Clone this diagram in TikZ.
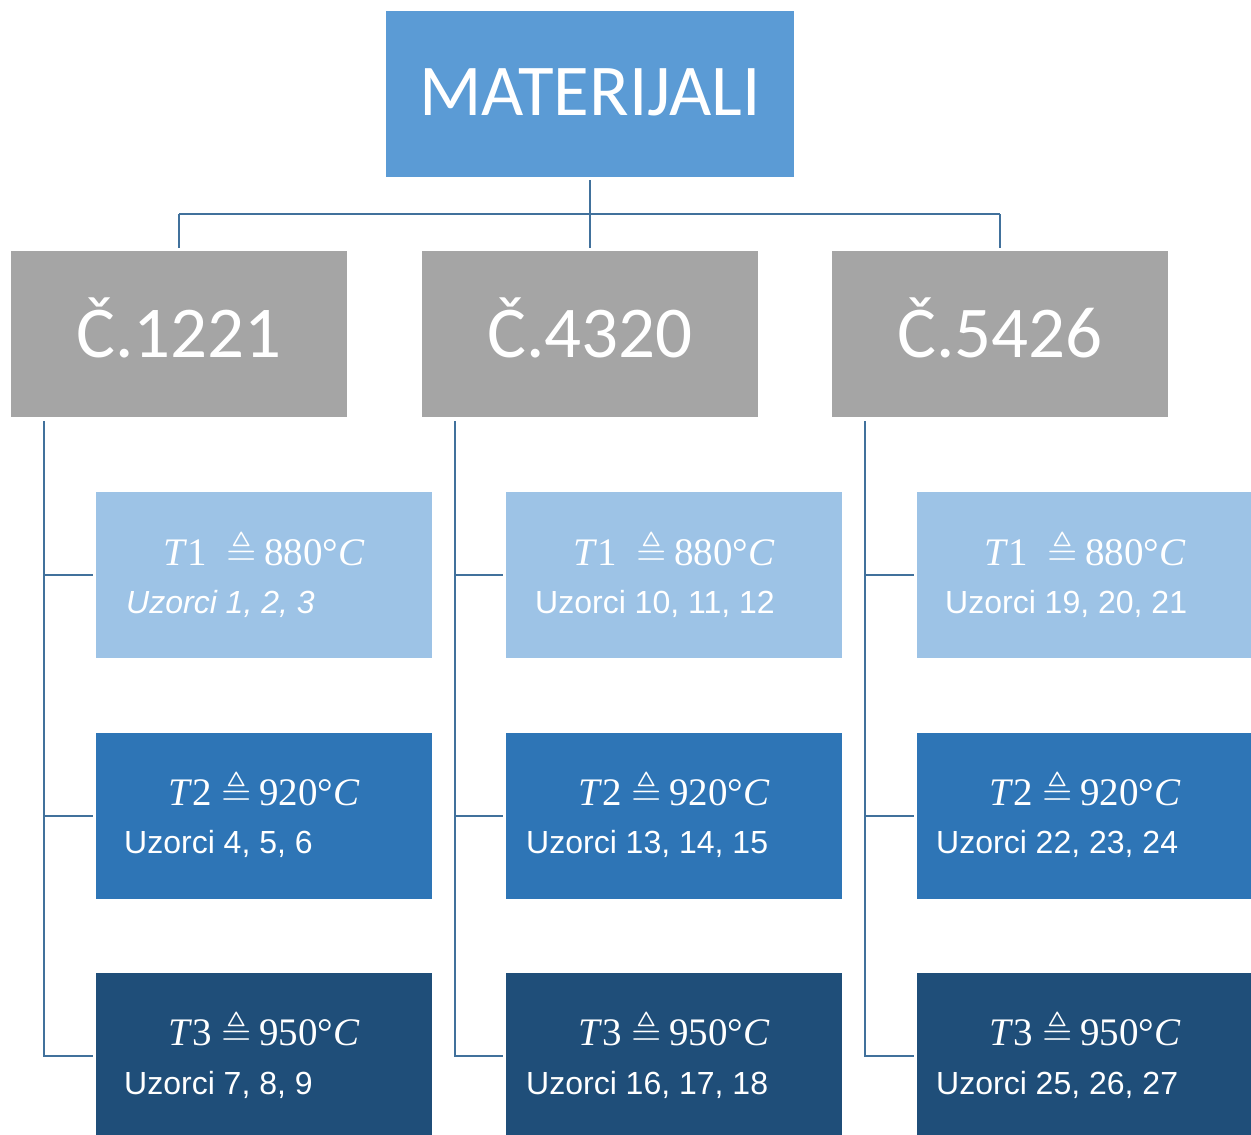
\documentclass[tikz,border=0pt]{standalone}
\usepackage{amssymb}
\usepackage{fontspec}
\setmainfont{Liberation Sans}
\newfontfamily\calib{Carlito}
\newfontfamily\serf{Liberation Serif}
\usetikzlibrary{calc}
\definecolor{topc}{HTML}{5B9BD5}
\definecolor{grayc}{HTML}{A5A5A5}
\definecolor{lightc}{HTML}{9DC3E6}
\definecolor{midc}{HTML}{2E75B6}
\definecolor{darkc}{HTML}{1F4E79}
\definecolor{linec}{HTML}{41719C}
\tikzset{
  box/.style={rectangle, inner sep=0pt, minimum width=336pt, minimum height=166pt},
  topbox/.style={box, fill=topc, minimum width=408pt},
  graybox/.style={box, fill=grayc},
  l1/.style={box, fill=lightc},
  l2/.style={box, fill=midc},
  l3/.style={box, fill=darkc},
  conn/.style={draw=linec, line width=2.6pt},
  big/.style={text=white, inner sep=0pt, font=\calib\fontsize{73}{80}\selectfont},
  tline/.style={text=white, inner sep=0pt, anchor=base, font=\serf\fontsize{39}{44}\selectfont},
  uline/.style={text=white, inner sep=0pt, anchor=base west, font=\fontsize{32}{36}\selectfont},
}
\newcommand{\tlab}[3]{\textit{T}#1#2$\triangleq$\hspace{0.2em}#3°\textit{C}}
\begin{document}
\begin{tikzpicture}[x=1pt,y=-1pt]
\useasboundingbox (0,0) rectangle (1251,1135);
\begin{scope}
\clip (0,0) rectangle (1251,1135);
% top
\node[topbox] (top) at (590,94) {};
\node[big, anchor=base] (topt) at (590,115) {MATERIJALI};
% gray
\node[graybox] (g1) at (179,334) {};
\node[graybox] (g2) at (590,334) {};
\node[graybox] (g3) at (1000,334) {};
\node[big, anchor=base] (g1t) at (179,357) {Č.1221};
\node[big, anchor=base] (g2t) at (590,357) {Č.4320};
\node[big, anchor=base] (g3t) at (1000,357) {Č.5426};
\coordinate (bus) at (0,214);
\draw[conn] (top.south) ++(0,3) -- (top.south |- bus);
\draw[conn, shorten >=3pt] (g1.north |- bus) -- (g1.north);
\draw[conn, shorten >=3pt] (g2.north |- bus) -- (g2.north);
\draw[conn, shorten >=3pt] (g3.north |- bus) -- (g3.north);
\draw[conn] (g1.north |- bus) -- (g3.north |- bus);
% children
\foreach \c/\x/\g in {1/264/g1, 2/674/g2, 3/1085/g3} {
  \node[l1] (c\c1) at (\x,575) {};
  \node[l2] (c\c2) at (\x,816) {};
  \node[l3] (c\c3) at (\x,1056) {};
  \coordinate (sp\c) at ($(\g.south west)+(33,4)$);
  \draw[conn] (sp\c) |- ($(c\c3.west)+(-3,0)$);
  \draw[conn] (sp\c |- c\c1.west) -- ($(c\c1.west)+(-3,0)$);
  \draw[conn] (sp\c |- c\c2.west) -- ($(c\c2.west)+(-3,0)$);
}
% texts
\node[tline] (t11) at (264,565) {\tlab{1}{\ \ }{880}};
\node[tline] (t21) at (674,565) {\tlab{1}{\ \ }{880}};
\node[tline] (t31) at (1085,565) {\tlab{1}{\ \ }{880}};
\node[tline] (t12) at (264,805) {\tlab{2}{\ }{920}};
\node[tline] (t22) at (674,805) {\tlab{2}{\ }{920}};
\node[tline] (t32) at (1085,805) {\tlab{2}{\ }{920}};
\node[tline] (t13) at (264,1045) {\tlab{3}{\ }{950}};
\node[tline] (t23) at (674,1045) {\tlab{3}{\ }{950}};
\node[tline] (t33) at (1085,1045) {\tlab{3}{\ }{950}};
\node[uline] (u11) at (126,613) {\itshape Uzorci 1, 2, 3};
\node[uline] (u21) at (535,613) {Uzorci 10, 11, 12};
\node[uline] (u31) at (945,613) {Uzorci 19, 20, 21};
\node[uline] (u12) at (124,853) {Uzorci 4, 5, 6};
\node[uline] (u22) at (526,853) {Uzorci 13, 14, 15};
\node[uline] (u32) at (936,853) {Uzorci 22, 23, 24};
\node[uline] (u13) at (124,1094) {Uzorci 7, 8, 9};
\node[uline] (u23) at (526,1094) {Uzorci 16, 17, 18};
\node[uline] (u33) at (936,1094) {Uzorci 25, 26, 27};
\end{scope}
\end{tikzpicture}
\end{document}
